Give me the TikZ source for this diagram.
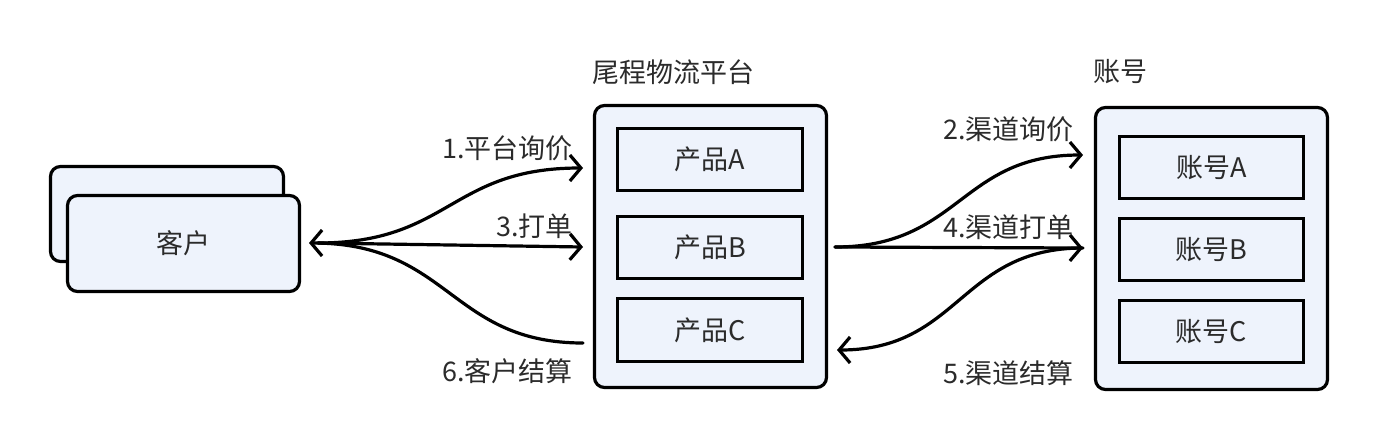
\documentclass[tikz,border=0pt]{standalone}
\usepackage{fontspec}
\setmainfont{Noto Sans CJK SC}
\usetikzlibrary{arrows.meta}
\definecolor{boxfill}{HTML}{EEF3FC}
\definecolor{txt}{HTML}{2B2B2B}
\begin{document}
\begin{tikzpicture}[x=1pt,y=-1pt,
 outerbox/.style={draw=black, fill=boxfill, rounded corners=10pt, line width=3.2pt, inner sep=0pt},
 innerbox/.style={draw=black, fill=boxfill, line width=3.2pt, inner sep=0pt, text=txt, font=\fontsize{27}{30}\selectfont},
 lbl/.style={text=txt, font=\fontsize{27}{30}\selectfont, inner sep=0pt},
 conn/.style={line width=3.2pt, line cap=round},
 arr/.style={conn, -{Straight Barb[length=11pt,width=26pt,line width=3.2pt]}},
]
\useasboundingbox (0,0) rectangle (1378,440);
% customer
\node[outerbox, minimum width=233pt, minimum height=95pt] (cback) at (167,214) {};
\node[outerbox, minimum width=232pt, minimum height=96pt, text=txt, font=\fontsize{27}{30}\selectfont] (cust) at (183.5,243.5) {客户};
% platform
\node[outerbox, minimum width=232pt, minimum height=282pt] (plat) at (710.5,246.5) {};
\node[lbl, anchor=west] (plattitle) at (592,72) {尾程物流平台};
\node[innerbox, minimum width=185pt, minimum height=62pt] (pa) at (710,159.5) {产品A};
\node[innerbox, minimum width=185pt, minimum height=62pt] (pb) at (710,247.5) {产品B};
\node[innerbox, minimum width=185pt, minimum height=63pt] (pc) at (710,330) {产品C};
% accounts
\node[outerbox, minimum width=232pt, minimum height=282pt] (acct) at (1211.5,248.5) {};
\node[lbl, anchor=west] (accttitle) at (1093,72) {账号};
\node[innerbox, minimum width=184pt, minimum height=62pt] (aa) at (1211.5,167.5) {账号A};
\node[innerbox, minimum width=184pt, minimum height=62pt] (ab) at (1211.5,249.5) {账号B};
\node[innerbox, minimum width=184pt, minimum height=62pt] (ac) at (1211.5,331.5) {账号C};
% connector end points
\coordinate (custtip) at (309,243);
\coordinate (custout) at (318,243);
\coordinate (pin1) at (583,168);
\coordinate (pin3) at (583,247);
\coordinate (pout6) at (583,343);
\coordinate (pout) at (835,247);
\coordinate (ain2) at (1083,155);
\coordinate (ain4) at (1083,248);
\coordinate (aout5) at (1083,248);
\coordinate (pin5) at (837,350);
% left connectors
\draw[arr] (custout) .. controls (450,243) and (450,168) .. (pin1);
\draw[arr] (custout) -- (pin3);
\draw[arr] (pout6) .. controls (450,343) and (450,243) .. (custtip);
% right connectors
\draw[arr] (pout) .. controls (960,247) and (960,155) .. (ain2);
\draw[arr] (pout) -- (ain4);
\draw[arr] (aout5) .. controls (960,248) and (960,350) .. (pin5);
% labels
\node[lbl, anchor=east] (l1) at (573,148) {1.平台询价};
\node[lbl, anchor=east] (l3) at (573,226) {3.打单};
\node[lbl, anchor=east] (l6) at (573,371) {6.客户结算};
\node[lbl, anchor=east] (l2) at (1074,129) {2.渠道询价};
\node[lbl, anchor=east] (l4) at (1074,227) {4.渠道打单};
\node[lbl, anchor=east] (l5) at (1074,373) {5.渠道结算};
\end{tikzpicture}
\end{document}
